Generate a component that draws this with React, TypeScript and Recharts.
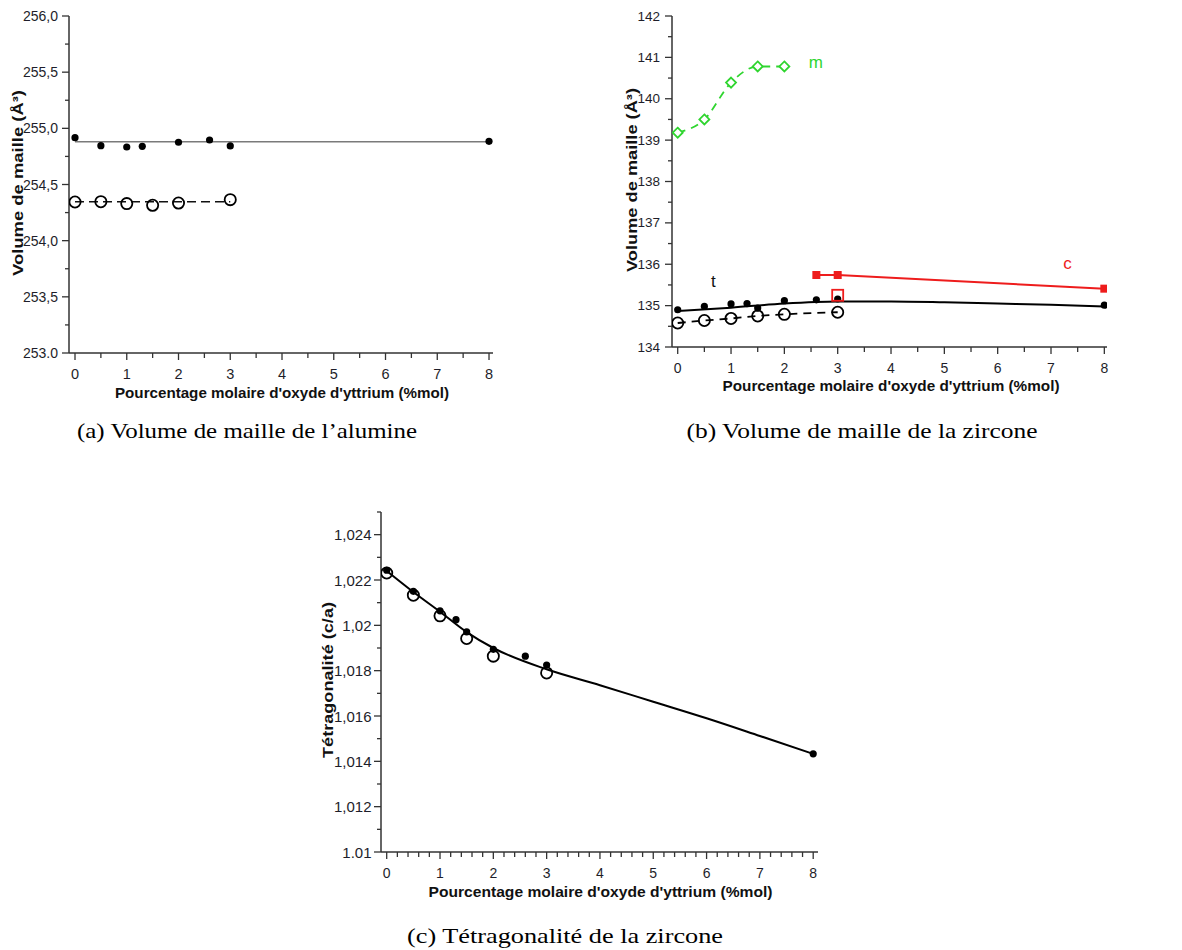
import React from 'react';
import { ComposedChart, Line, Scatter, XAxis, YAxis } from 'recharts';

// ---------- (a) Volume de maille de l'alumine ----------
const aFilledX = [0, 0.5, 1, 1.3, 2, 2.6, 3, 8];
const aFilledY = [254.917, 254.846, 254.834, 254.84, 254.876, 254.896, 254.843, 254.884];
const aOpenX = [0, 0.5, 1, 1.5, 2, 3];
const aOpenY = [254.344, 254.347, 254.33, 254.315, 254.335, 254.365];
const aFitSolidX = [0, 8];
const aFitSolidY = [254.881, 254.881];
const aFitDashX = [0, 3];
const aFitDashY = [254.347, 254.347];
const aYMajor = [253, 253.5, 254, 254.5, 255, 255.5, 256];
const aYLabels = ['253.0', '253,5', '254,0', '254,5', '255,0', '255,5', '256,0'];
const aYMinor = [253.25, 253.75, 254.25, 254.75, 255.25, 255.75];

// ---------- (b) Volume de maille de la zircone ----------
const bMonoX = [0, 0.5, 1, 1.5, 2];
const bMonoY = [139.18, 139.5, 140.39, 140.78, 140.78];
const bTetraFilledX = [0, 0.5, 1, 1.3, 1.5, 2, 2.6, 3, 8];
const bTetraFilledY = [134.9, 134.98, 135.04, 135.05, 134.94, 135.12, 135.14, 135.16, 135.01];
const bTetraOpenX = [0, 0.5, 1, 1.5, 2, 3];
const bTetraOpenY = [134.58, 134.64, 134.69, 134.75, 134.79, 134.84];
const bTetraFitX = [0, 1, 2, 3, 4, 5, 6, 7, 8];
const bTetraFitY = [134.87, 134.95, 135.05, 135.1, 135.1, 135.08, 135.05, 135.02, 134.98];
const bCubicX = [2.6, 3, 8];
const bCubicY = [135.74, 135.74, 135.41];
const bCubicOpenX = [3];
const bCubicOpenY = [135.25];
const bYMajor = [134, 135, 136, 137, 138, 139, 140, 141, 142];
const bYLabels = ['134', '135', '136', '137', '138', '139', '140', '141', '142'];
const bYMinor = [134.5, 135.5, 136.5, 137.5, 138.5, 139.5, 140.5, 141.5];
const bNoteText = ['m', 't', 'c'];
const bNoteX = [2.59, 0.67, 7.31];
const bNoteY = [140.87, 135.58, 136.03];
const bNoteColor = ['#2fd52f', '#111', '#ee1c1c'];

// ---------- (c) Tétragonalité de la zircone ----------
const cFilledX = [0, 0.5, 1, 1.3, 1.5, 2, 2.6, 3, 8];
const cFilledY = [1.02243, 1.0215, 1.02064, 1.02025, 1.01971, 1.01894, 1.01864, 1.01825, 1.01433];
const cOpenX = [0, 0.5, 1, 1.5, 2, 3];
const cOpenY = [1.02231, 1.02133, 1.02042, 1.01942, 1.01864, 1.0179];
const cFitX = [0, 0.5, 1, 1.5, 2, 3, 4, 5, 6, 7, 8];
const cFitY = [1.0224, 1.02147, 1.0206, 1.0197, 1.019, 1.01806, 1.01736, 1.01663, 1.0159, 1.01512, 1.01433];
const cYMajor = [1.01, 1.012, 1.014, 1.016, 1.018, 1.02, 1.022, 1.024];
const cYLabels = ['1.01', '1,012', '1,014', '1,016', '1,018', '1,02', '1,022', '1,024'];
const cYMinor = [1.011, 1.013, 1.015, 1.017, 1.019, 1.021, 1.023, 1.025];

// ---------- shared x axis ticks ----------
const xMajor = [0, 1, 2, 3, 4, 5, 6, 7, 8];
const xLabels = ['0', '1', '2', '3', '4', '5', '6', '7', '8'];
const xMinorHalf = [0.5, 1.5, 2.5, 3.5, 4.5, 5.5, 6.5, 7.5];
const xMinorFifth = [0.2, 0.4, 0.6, 0.8, 1.2, 1.4, 1.6, 1.8, 2.2, 2.4, 2.6, 2.8, 3.2, 3.4, 3.6, 3.8,
  4.2, 4.4, 4.6, 4.8, 5.2, 5.4, 5.6, 5.8, 6.2, 6.4, 6.6, 6.8, 7.2, 7.4, 7.6, 7.8];

// ---------- text ----------
const xTitle = "Pourcentage molaire d'oxyde d'yttrium (%mol)";
const yTitleVol = 'Volume de maille (Å³)';
const yTitleTetra = 'Tétragonalité (c/a)';
const captions = [
  '(a) Volume de maille de l’alumine',
  '(b) Volume de maille de la zircone',
  '(c) Tétragonalité de la zircone',
];

const zip = (xs: number[], ys: number[]) => xs.map((x, i) => ({ x, y: ys[i] }));

const SANS = "'Liberation Sans', Arial, sans-serif";
const AXIS = '#333';
const TXT = '#1e1e2a';

function makeYTick(majors: number[], labels: string[], fontSize: number, gap: number) {
  return (props: any) => {
    const { x, y, payload } = props;
    const i = majors.findIndex((v) => Math.abs(v - payload.value) < 1e-9);
    const len = i >= 0 ? 7 : 4;
    return (
      <g>
        <line x1={x - len} x2={x} y1={y} y2={y} stroke={AXIS} strokeWidth={1.3} />
        {i >= 0 && (
          <text x={x - len - gap} y={y} textAnchor="end" dominantBaseline="central"
            fontSize={fontSize} fontFamily={SANS} fill={TXT}>{labels[i]}</text>
        )}
      </g>
    );
  };
}

function makeXTick(majors: number[], labels: string[], fontSize: number, minorLen: number) {
  return (props: any) => {
    const { x, y, payload } = props;
    const i = majors.findIndex((v) => Math.abs(v - payload.value) < 1e-9);
    const len = i >= 0 ? 7 : minorLen;
    return (
      <g>
        <line x1={x} x2={x} y1={y} y2={y + len} stroke={AXIS} strokeWidth={1.3} />
        {i >= 0 && (
          <text x={x} y={y + 26} textAnchor="middle" fontSize={fontSize} fontFamily={SANS} fill={TXT}>{labels[i]}</text>
        )}
      </g>
    );
  };
}

const filledDot = (p: any) => <circle cx={p.cx} cy={p.cy} r={3.6} fill="#000" />;
const openCircle = (p: any) => <circle cx={p.cx} cy={p.cy} r={5.6} fill="none" stroke="#000" strokeWidth={1.8} />;
const greenDiamond = (p: any) => (
  <polygon points={`${p.cx},${p.cy - 5} ${p.cx + 5},${p.cy} ${p.cx},${p.cy + 5} ${p.cx - 5},${p.cy}`}
    fill="#fff" stroke="#2fd52f" strokeWidth={1.8} />
);
const redSquare = (p: any) => <rect x={p.cx - 4} y={p.cy - 4} width={8} height={8} fill="#ee1c1c" />;
const redOpenSquare = (p: any) => (
  <rect x={p.cx - 5.5} y={p.cy - 5.5} width={11} height={11} fill="none" stroke="#ee1c1c" strokeWidth={1.8} />
);
const noteShape = (p: any) => (
  <text x={p.cx} y={p.cy} textAnchor="middle" dominantBaseline="central" fontSize={17}
    fontFamily={SANS} fill={p.payload.color}>{p.payload.label}</text>
);

const axisLine = { stroke: AXIS, strokeWidth: 1.5 };

export default function App() {
  const notes = bNoteText.map((label, i) => ({ x: bNoteX[i], y: bNoteY[i], label, color: bNoteColor[i] }));
  return (
    <div style={{ position: 'absolute', left: 0, top: 0, width: 1182, height: 950, background: '#fff' }}>
      {/* (a) */}
      <div style={{ position: 'absolute', left: 0, top: 0 }}>
        <ComposedChart width={520} height={390} margin={{ top: 16, right: 27, bottom: 17, left: 0 }}>
          <XAxis type="number" dataKey="x" domain={[-0.116, 8.077]} allowDataOverflow
            ticks={[...xMajor, ...xMinorHalf]} interval={0} tickSize={0} tickMargin={0} tickLine={false}
            axisLine={axisLine} tick={makeXTick(xMajor, xLabels, 14.5, 5)} height={20} />
          <YAxis type="number" dataKey="y" domain={[253, 256]} allowDataOverflow
            ticks={[...aYMajor, ...aYMinor]} interval={0} tickSize={0} tickMargin={0} tickLine={false}
            axisLine={axisLine} tick={makeYTick(aYMajor, aYLabels, 14, 4)} width={69} />
          <Line data={zip(aFitSolidX, aFitSolidY)} dataKey="y" type="linear" stroke="#7a7a7a" strokeWidth={1.6}
            dot={false} isAnimationActive={false} />
          <Line data={zip(aFitDashX, aFitDashY)} dataKey="y" type="linear" stroke="#111" strokeWidth={1.6}
            strokeDasharray="9 5" dot={false} isAnimationActive={false} />
          <Scatter data={zip(aFilledX, aFilledY)} dataKey="y" shape={filledDot} isAnimationActive={false} />
          <Scatter data={zip(aOpenX, aOpenY)} dataKey="y" shape={openCircle} isAnimationActive={false} />
        </ComposedChart>
      </div>

      {/* (b) */}
      <div style={{ position: 'absolute', left: 590, top: 0 }}>
        <ComposedChart width={540} height={385} margin={{ top: 16, right: 23, bottom: 18, left: 0 }}>
          <XAxis type="number" dataKey="x" domain={[-0.107, 8.05]} allowDataOverflow
            ticks={[...xMajor, ...xMinorHalf]} interval={0} tickSize={0} tickMargin={0} tickLine={false}
            axisLine={axisLine} tick={makeXTick(xMajor, xLabels, 14, 5)} height={20} />
          <YAxis type="number" dataKey="y" domain={[134, 142]} allowDataOverflow
            ticks={[...bYMajor, ...bYMinor]} interval={0} tickSize={0} tickMargin={0} tickLine={false}
            axisLine={axisLine} tick={makeYTick(bYMajor, bYLabels, 13.5, 5)} width={82} />
          <Line data={zip(bMonoX, bMonoY)} dataKey="y" type="monotone" stroke="#2fd52f" strokeWidth={1.8}
            strokeDasharray="8 6" dot={false} isAnimationActive={false} />
          <Line data={zip(bTetraFitX, bTetraFitY)} dataKey="y" type="monotone" stroke="#000" strokeWidth={2}
            dot={false} isAnimationActive={false} />
          <Line data={zip(bTetraOpenX, bTetraOpenY)} dataKey="y" type="monotone" stroke="#000" strokeWidth={1.8}
            strokeDasharray="8 6" dot={false} isAnimationActive={false} />
          <Line data={zip(bCubicX, bCubicY)} dataKey="y" type="linear" stroke="#ee1c1c" strokeWidth={2}
            dot={false} isAnimationActive={false} />
          <Scatter data={zip(bMonoX, bMonoY)} dataKey="y" shape={greenDiamond} isAnimationActive={false} />
          <Scatter data={zip(bTetraFilledX, bTetraFilledY)} dataKey="y" shape={filledDot} isAnimationActive={false} />
          <Scatter data={zip(bTetraOpenX, bTetraOpenY)} dataKey="y" shape={openCircle} isAnimationActive={false} />
          <Scatter data={zip(bCubicX, bCubicY)} dataKey="y" shape={redSquare} isAnimationActive={false} />
          <Scatter data={zip(bCubicOpenX, bCubicOpenY)} dataKey="y" shape={redOpenSquare} isAnimationActive={false} />
          <Scatter data={notes} dataKey="y" shape={noteShape} isAnimationActive={false} />
        </ComposedChart>
      </div>

      {/* (c) */}
      <div style={{ position: 'absolute', left: 300, top: 480 }}>
        <ComposedChart width={540} height={410} margin={{ top: 32, right: 22, bottom: 18, left: 0 }}>
          <XAxis type="number" dataKey="x" domain={[-0.107, 8.09]} allowDataOverflow
            ticks={[...xMajor, ...xMinorFifth]} interval={0} tickSize={0} tickMargin={0} tickLine={false}
            axisLine={axisLine} tick={makeXTick(xMajor, xLabels, 14, 5)} height={20} />
          <YAxis type="number" dataKey="y" domain={[1.01, 1.025]} allowDataOverflow
            ticks={[...cYMajor, ...cYMinor]} interval={0} tickSize={0} tickMargin={0} tickLine={false}
            axisLine={axisLine} tick={makeYTick(cYMajor, cYLabels, 15, 2.5)} width={81} />
          <Line data={zip(cFitX, cFitY)} dataKey="y" type="monotone" stroke="#000" strokeWidth={2}
            dot={false} isAnimationActive={false} />
          <Scatter data={zip(cFilledX, cFilledY)} dataKey="y" shape={filledDot} isAnimationActive={false} />
          <Scatter data={zip(cOpenX, cOpenY)} dataKey="y" shape={openCircle} isAnimationActive={false} />
        </ComposedChart>
      </div>

      {/* axis titles and captions */}
      <svg width={1182} height={950} style={{ position: 'absolute', left: 0, top: 0, pointerEvents: 'none' }}>
        <g fontFamily={SANS} fontWeight="bold" fontSize={15} fill="#111">
          <text x={282} y={398} textAnchor="middle" textLength={334} lengthAdjust="spacingAndGlyphs">{xTitle}</text>
          <text x={891} y={391} textAnchor="middle" textLength={337} lengthAdjust="spacingAndGlyphs">{xTitle}</text>
          <text x={600.5} y={897} textAnchor="middle" textLength={344} lengthAdjust="spacingAndGlyphs">{xTitle}</text>
          <text transform="translate(23,183) rotate(-90)" textAnchor="middle" textLength={186} lengthAdjust="spacingAndGlyphs">{yTitleVol}</text>
          <text transform="translate(637,180) rotate(-90)" textAnchor="middle" textLength={184} lengthAdjust="spacingAndGlyphs">{yTitleVol}</text>
          <text transform="translate(333,680) rotate(-90)" textAnchor="middle" textLength={156} lengthAdjust="spacingAndGlyphs">{yTitleTetra}</text>
        </g>
        <g fontFamily="'Liberation Serif', 'DejaVu Serif', serif" fontSize={21} fill="#000">
          <text x={247} y={438} textAnchor="middle" textLength={340} lengthAdjust="spacingAndGlyphs">{captions[0]}</text>
          <text x={862} y={438} textAnchor="middle" textLength={351} lengthAdjust="spacingAndGlyphs">{captions[1]}</text>
          <text x={565} y={943} textAnchor="middle" textLength={316} lengthAdjust="spacingAndGlyphs">{captions[2]}</text>
        </g>
      </svg>
    </div>
  );
}
